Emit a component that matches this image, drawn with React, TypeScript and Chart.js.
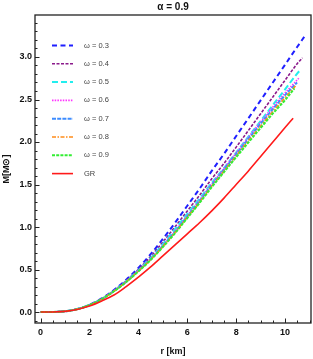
import React, { useEffect, useRef } from "react";
import { Chart, registerables } from "chart.js";

Chart.register(...registerables);

const titleText = "\u03b1 = 0.9";
const xTitle = "r [km]";
const yTitle = "M[M\u2299]";
const xTickValues = [0, 2, 4, 6, 8, 10];
const yTickValues = [0, 0.5, 1.0, 1.5, 2.0, 2.5, 3.0];

const rGrid = [0, 0.5, 1, 1.5, 2, 2.5, 3, 3.5, 4, 4.5, 5, 5.5, 6, 6.5, 7, 7.5, 8, 8.5, 9, 9.5, 10];

const seriesLabels = ["\u03c9 = 0.3", "\u03c9 = 0.4", "\u03c9 = 0.5", "\u03c9 = 0.6", "\u03c9 = 0.7", "\u03c9 = 0.8", "\u03c9 = 0.9", "GR"];

const m03 = [0, 0.001, 0.009, 0.035, 0.085, 0.16, 0.26, 0.38, 0.52, 0.68, 0.86, 1.05, 1.25, 1.45, 1.66, 1.86, 2.07, 2.28, 2.49, 2.7, 2.91, 3.12, 3.24];
const r03End = [10.5, 10.79];
const m04 = [0, 0.001, 0.009, 0.035, 0.084, 0.157, 0.253, 0.368, 0.502, 0.653, 0.823, 1.003, 1.188, 1.373, 1.567, 1.748, 1.94, 2.136, 2.333, 2.53, 2.727, 2.923, 2.99];
const r04End = [10.5, 10.71];
const m05 = [0, 0.001, 0.009, 0.035, 0.083, 0.154, 0.248, 0.361, 0.491, 0.636, 0.8, 0.977, 1.156, 1.334, 1.519, 1.693, 1.877, 2.063, 2.248, 2.435, 2.619, 2.808, 2.85];
const r05End = [10.5, 10.63];
const m06 = [0, 0.001, 0.009, 0.034, 0.083, 0.154, 0.248, 0.358, 0.486, 0.626, 0.784, 0.953, 1.135, 1.317, 1.507, 1.689, 1.873, 2.057, 2.236, 2.411, 2.578, 2.75];
const r06End = [10.56];
const m07 = [0, 0.001, 0.009, 0.034, 0.082, 0.153, 0.246, 0.356, 0.484, 0.621, 0.777, 0.945, 1.125, 1.305, 1.494, 1.674, 1.857, 2.036, 2.214, 2.387, 2.552, 2.7];
const r07End = [10.49];
const m08 = [0, 0.001, 0.009, 0.034, 0.082, 0.152, 0.245, 0.355, 0.481, 0.616, 0.771, 0.937, 1.115, 1.293, 1.481, 1.659, 1.838, 2.016, 2.189, 2.36, 2.523, 2.66];
const r08End = [10.43];
const m09 = [0, 0.001, 0.009, 0.034, 0.082, 0.152, 0.244, 0.353, 0.478, 0.612, 0.765, 0.929, 1.106, 1.283, 1.469, 1.646, 1.822, 1.995, 2.166, 2.336, 2.494, 2.63];
const r09End = [10.38];
const mGR = [0, 0.001, 0.008, 0.03, 0.07, 0.13, 0.2, 0.3, 0.41, 0.53, 0.66, 0.79, 0.92, 1.05, 1.19, 1.34, 1.5, 1.66, 1.83, 2.0, 2.17, 2.28];
const rGREnd = [10.33];

const seriesColors = ["#1f1fff", "#8b1a8b", "#22eeee", "#ff33ff", "#3d8cff", "#ff8c1a", "#33ee33", "#ff1a1a"];
const seriesDashes = [[5, 3.5], [3, 1.5], [6, 3], [1.5, 1.2], [4, 1.2], [4, 1.5, 1.5, 1.5], [3, 1.2], []];
const seriesWidths = [2, 1.6, 2, 1.6, 2, 1.6, 2, 1.6];

function pts(ms: number[], ends: number[]) {
  const rs = rGrid.concat(ends);
  return ms.map((m, i) => ({ x: rs[i], y: m }));
}

const FONT = "'Liberation Sans', Arial, sans-serif";

const framePlugin = {
  id: "frameAndLegend",
  afterDraw(chart: any) {
    const ctx = chart.ctx;
    const a = chart.chartArea;
    const xs = chart.scales.x;
    const ys = chart.scales.y;
    ctx.save();
    ctx.strokeStyle = "#222";
    ctx.lineWidth = 1.3;
    ctx.setLineDash([]);
    ctx.strokeRect(a.left, a.top, a.right - a.left, a.bottom - a.top);
    ctx.lineWidth = 1;
    for (let i = -1; i <= 34; i++) {
      const v = i / 10;
      const py = Math.round(ys.getPixelForValue(v)) + 0.5;
      if (py < a.top || py > a.bottom) continue;
      const len = i % 5 === 0 ? 4.5 : 2.5;
      ctx.beginPath();
      ctx.moveTo(a.left, py);
      ctx.lineTo(a.left + len, py);
      ctx.stroke();
    }
    for (let i = 0; i <= 22; i++) {
      const v = i / 2;
      const px = Math.round(xs.getPixelForValue(v)) + 0.5;
      if (px < a.left || px > a.right) continue;
      const len = i % 4 === 0 ? 4.5 : 2.5;
      ctx.beginPath();
      ctx.moveTo(px, a.bottom);
      ctx.lineTo(px, a.bottom - len);
      ctx.stroke();
    }
    ctx.fillStyle = "#111";
    ctx.font = "bold 10px " + FONT;
    ctx.textAlign = "center";
    ctx.textBaseline = "middle";
    ctx.fillText(titleText, 173, 7);
    const x0 = 52;
    const x1 = 73;
    let y = 45.5;
    ctx.font = "7.5px " + FONT;
    ctx.textAlign = "left";
    for (let i = 0; i < seriesLabels.length; i++) {
      ctx.strokeStyle = seriesColors[i];
      ctx.lineWidth = seriesWidths[i];
      ctx.setLineDash(seriesDashes[i]);
      ctx.beginPath();
      ctx.moveTo(x0, y);
      ctx.lineTo(x1, y);
      ctx.stroke();
      ctx.fillStyle = "#444";
      ctx.fillText(seriesLabels[i], 84, y);
      y += 18.3;
    }
    ctx.restore();
  },
};

export default function App() {
  const ref = useRef<HTMLCanvasElement | null>(null);
  useEffect(() => {
    if (!ref.current) return;
    const allData = [
      pts(m03, r03End),
      pts(m04, r04End),
      pts(m05, r05End),
      pts(m06, r06End),
      pts(m07, r07End),
      pts(m08, r08End),
      pts(m09, r09End),
      pts(mGR, rGREnd),
    ];
    const order = [7, 6, 5, 4, 3, 2, 1, 0];
    const datasets = order.map((i) => ({
      label: seriesLabels[i],
      data: allData[i],
      borderColor: seriesColors[i],
      borderDash: seriesDashes[i],
      borderWidth: seriesWidths[i],
      pointRadius: 0,
      fill: false,
      cubicInterpolationMode: "monotone" as const,
    }));
    const chart = new Chart(ref.current, {
      type: "line",
      data: { datasets },
      plugins: [framePlugin],
      options: {
        responsive: false,
        animation: false,
        devicePixelRatio: 1,
        layout: { padding: { top: 15, right: 2, left: 0, bottom: 0 } },
        plugins: { legend: { display: false }, tooltip: { enabled: false }, title: { display: false } },
        scales: {
          x: {
            type: "linear",
            min: -0.23,
            max: 11.06,
            grid: { display: false, drawTicks: false },
            border: { display: false },
            afterBuildTicks: (s: any) => {
              s.ticks = xTickValues.map((v) => ({ value: v }));
            },
            afterFit: (s: any) => {
              s.height = 36;
            },
            ticks: {
              padding: 4,
              color: "#111",
              font: { family: FONT, size: 9, weight: "bold" },
              callback: (v: any) => String(v),
              maxRotation: 0,
            },
            title: {
              display: true,
              text: xTitle,
              color: "#111",
              font: { family: FONT, size: 9, weight: "bold" },
              padding: { top: 0, bottom: 2 },
            },
          },
          y: {
            type: "linear",
            min: -0.129,
            max: 3.494,
            grid: { display: false, drawTicks: false },
            border: { display: false },
            afterBuildTicks: (s: any) => {
              s.ticks = yTickValues.map((v) => ({ value: v }));
            },
            afterFit: (s: any) => {
              s.width = 35;
            },
            ticks: {
              padding: 3,
              color: "#111",
              font: { family: FONT, size: 9, weight: "bold" },
              callback: (v: any) => Number(v).toFixed(1),
            },
            title: {
              display: true,
              text: yTitle,
              color: "#111",
              font: { family: FONT, size: 9, weight: "bold" },
              padding: { top: 1, bottom: 0 },
            },
          },
        },
      },
    });
    return () => chart.destroy();
  }, []);
  return (
    <div style={{ position: "fixed", left: 0, top: 0, width: 313, height: 359, background: "#fff" }}>
      <canvas ref={ref} width={313} height={359} />
    </div>
  );
}
